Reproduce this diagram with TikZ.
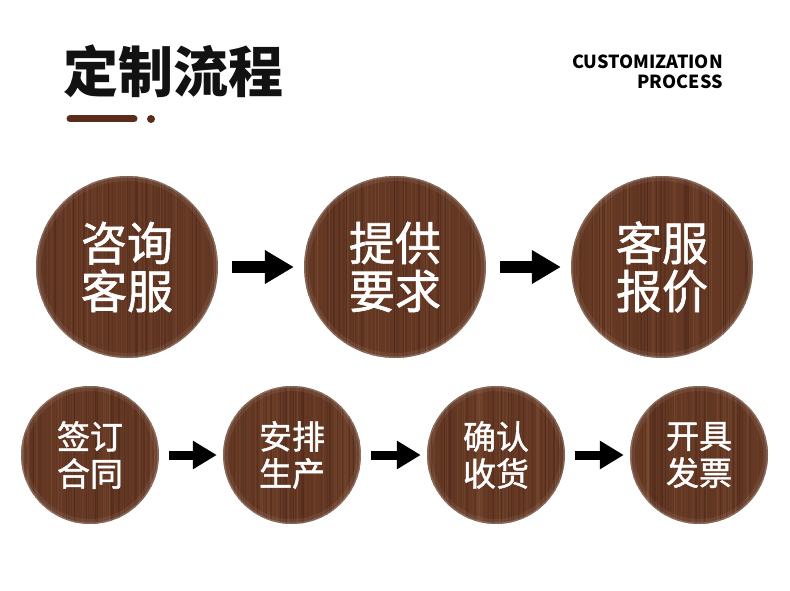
\documentclass[tikz,border=0pt]{standalone}
\usepackage{fontspec}
\setmainfont{Noto Sans}
\newfontfamily\cjk{Noto Sans CJK SC}
\newfontfamily\cjkmid[FakeBold=1.3]{Noto Sans CJK SC}
\usetikzlibrary{
    calc,
    arrows.meta
}
\definecolor{woodbase}{HTML}{653824}
\definecolor{wooddark}{HTML}{421f13}
\definecolor{woodlight}{HTML}{855539}
\definecolor{barbrown}{HTML}{5a2d1b}
\tikzset{% wooden discs
    wood/.style={%
        circle, fill=woodbase, minimum size=#1, inner sep=0pt,
        text=white, align=center,
        path picture={%
            \foreach \k in {1,...,130}{%
                \pgfmathsetmacro\xx{rnd}
                \pgfmathtruncatemacro\tn{100*rnd}
                \pgfmathsetmacro\lw{0.3+1.2*rnd}
                \draw[color=woodlight!\tn!wooddark, opacity=.4, line width=\lw pt]
                    ($(path picture bounding box.south west)!\xx!(path picture bounding box.south east)$) --
                    ($(path picture bounding box.north west)!\xx!(path picture bounding box.north east)$);
            }
            \draw[white, opacity=.07, line width=10pt] (path picture bounding box.center) circle (#1/2);
            \draw[white, opacity=.18, line width=3pt] (path picture bounding box.center) circle (#1/2);
        }
    },
    bigtxt/.style={font=\cjkmid\fontsize{46}{48}\selectfont},
    smalltxt/.style={font=\cjkmid\fontsize{33}{37}\selectfont},
    bigarrow/.style={-{Triangle[width=32pt,length=29pt]}, line width=12pt, shorten <=14pt, shorten >=10pt},
    smallarrow/.style={-{Triangle[width=27pt,length=24pt]}, line width=9pt, shorten <=10pt, shorten >=6pt}
}

\begin{document}
\begin{tikzpicture}[x=1pt, y=-1pt]
    \pgfmathsetseed{11}
    \useasboundingbox (0,0) rectangle (790,591);

    % heading
    \node[font=\cjk\bfseries\fontsize{55}{60}\selectfont, anchor=west, inner sep=0pt, text=black!93] (title) at (63,71) {定制流程};
    \node[font=\cjk\bfseries\fontsize{18}{20}\selectfont, anchor=east, align=right, inner sep=0pt] (en) at (723,72) {CUSTOMIZATION\\PROCESS};
    \draw[barbrown, line width=7pt, line cap=round] (70,119) -- (134,119);
    \fill[barbrown] (151,119) circle (4);

    % first row
    \node[wood=182pt, bigtxt] (s1) at (127,267) {咨询\\客服};
    \node[wood=182pt, bigtxt] (s2) at (395,267) {提供\\要求};
    \node[wood=182pt, bigtxt] (s3) at (662,267) {客服\\报价};
    \draw[bigarrow] (s1) -- (s2);
    \draw[bigarrow] (s2) -- (s3);

    % second row
    \node[wood=138pt, smalltxt] (t1) at (90,455) {签订\\合同};
    \node[wood=138pt, smalltxt] (t2) at (292,455) {安排\\生产};
    \node[wood=138pt, smalltxt] (t3) at (496,455) {确认\\收货};
    \node[wood=138pt, smalltxt] (t4) at (699,455) {开具\\发票};
    \draw[smallarrow] (t1) -- (t2);
    \draw[smallarrow] (t2) -- (t3);
    \draw[smallarrow] (t3) -- (t4);
\end{tikzpicture}
\end{document}
